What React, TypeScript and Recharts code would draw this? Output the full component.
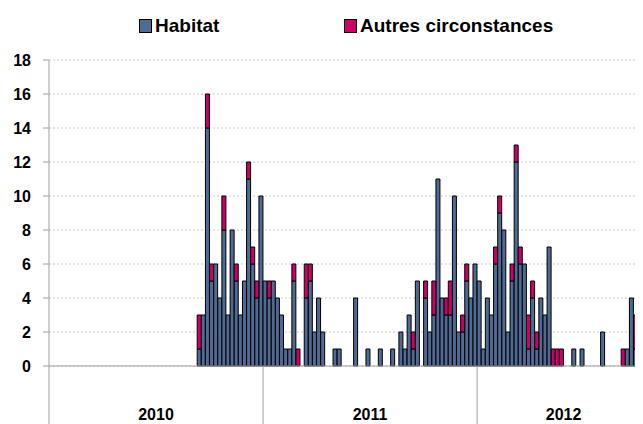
import React from 'react';
import { BarChart, Bar, XAxis, YAxis, CartesianGrid } from 'recharts';

const years = ['2010', '2011', '2012'];

const habitat2010 = [
  0, 0, 0, 0, 0, 0, 0, 0, 0, 0, 0, 0, 0, 0, 0, 0, 0, 0, 0, 0, 0, 0, 0, 0, 0, 0,
  0, 0, 0, 0, 0, 0, 0, 0, 0, 0, 1, 3, 14, 5, 6, 4, 8, 3, 8, 5, 3, 5, 11, 6, 4, 10,
];
const autres2010 = [
  0, 0, 0, 0, 0, 0, 0, 0, 0, 0, 0, 0, 0, 0, 0, 0, 0, 0, 0, 0, 0, 0, 0, 0, 0, 0,
  0, 0, 0, 0, 0, 0, 0, 0, 0, 0, 2, 0, 2, 1, 0, 0, 2, 0, 0, 1, 0, 0, 1, 1, 1, 0,
];
const habitat2011 = [
  5, 4, 5, 4, 3, 1, 1, 5, 0, 0, 4, 5, 2, 4, 2, 0, 0, 1, 1, 0, 0, 0, 4, 0, 0, 1,
  0, 0, 1, 0, 0, 1, 0, 2, 1, 3, 1, 5, 0, 4, 2, 3, 11, 4, 3, 3, 10, 2, 2, 5, 4, 6,
];
const autres2011 = [
  0, 1, 0, 0, 0, 0, 0, 1, 1, 0, 2, 1, 0, 0, 0, 0, 0, 0, 0, 0, 0, 0, 0, 0, 0, 0,
  0, 0, 0, 0, 0, 0, 0, 0, 0, 0, 1, 0, 0, 1, 0, 2, 0, 0, 1, 2, 0, 0, 1, 1, 0, 0,
];
const habitat2012 = [
  5, 1, 4, 3, 6, 9, 8, 2, 5, 12, 6, 6, 1, 4, 1, 4, 3, 7, 0, 0, 0, 0, 0, 1, 0, 1,
  0, 0, 0, 0, 2, 0, 0, 0, 0, 0, 1, 4, 1, 1, 2, 0,
];
const autres2012 = [
  0, 0, 0, 0, 1, 1, 0, 0, 1, 1, 1, 0, 2, 1, 1, 0, 0, 0, 1, 1, 1, 0, 0, 0, 0, 0,
  0, 0, 0, 0, 0, 0, 0, 0, 0, 1, 0, 0, 2, 0, 0, 0,
];

const seriesHabitat = [habitat2010, habitat2011, habitat2012];
const seriesAutres = [autres2010, autres2011, autres2012];

const data: { i: number; habitat: number; autres: number }[] = [];
const yearStarts: number[] = [];
const yearCenters: { idx: number; label: string }[] = [];
{
  let idx = 0;
  seriesHabitat.forEach((arr, y) => {
    yearStarts.push(idx);
    yearCenters.push({ idx: idx + Math.round(arr.length / 2), label: years[y] });
    arr.forEach((h, w) => {
      data.push({ i: idx, habitat: h, autres: seriesAutres[y][w] });
      idx++;
    });
  });
}

const CHART_W = 660;
const CHART_H = 416;
const M_TOP = 52;
const M_RIGHT = 18;
const Y_W = 41;
const X_H = 58;
const PLOT_W = CHART_W - M_RIGHT - Y_W;
const BAND = PLOT_W / data.length;
const PLOT_BOTTOM = CHART_H - X_H;

const FONT = '"Liberation Sans", Arial, sans-serif';
const AXIS_COLOR = '#A0A0A0';
const BLUE = '#4F6A93';
const PINK = '#CC0066';

const YearTick = (props: any) => {
  const { x, payload } = props;
  const i = Number(payload.value);
  const left = x - BAND / 2;
  const els: any[] = [];
  if (yearStarts.includes(i)) {
    els.push(
      <line key="l" x1={left} x2={left} y1={PLOT_BOTTOM} y2={CHART_H} stroke={AXIS_COLOR} strokeWidth={1} />
    );
  }
  const c = yearCenters.find((yc) => yc.idx === i);
  if (c) {
    els.push(
      <text key="t" x={left} y={412} textAnchor="middle" fontFamily={FONT} fontWeight="bold" fontSize={16} fill="#000">
        {c.label}
      </text>
    );
  }
  return <g>{els}</g>;
};

const LegendItem = ({ color, label, left }: { color: string; label: string; left: number }) => (
  <div style={{ position: 'absolute', left, top: 6, display: 'flex', alignItems: 'center', height: 24 }}>
    <div style={{ width: 11, height: 12, background: color, border: '1px solid #000', marginRight: 3 }} />
    <span style={{ fontFamily: FONT, fontWeight: 'bold', fontSize: 19, color: '#000', lineHeight: '24px' }}>{label}</span>
  </div>
);

export default function App() {
  return (
    <div style={{ width: 635, height: CHART_H, overflow: 'hidden', position: 'relative' }}>
      <BarChart
        width={CHART_W}
        height={CHART_H}
        data={data}
        margin={{ top: M_TOP, right: M_RIGHT, bottom: 0, left: 0 }}
        barCategoryGap={0}
        barGap={0}
      >
        <CartesianGrid vertical={false} stroke="#C8C8C8" strokeDasharray="2 2" />
        <XAxis
          dataKey="i"
          type="category"
          interval={0}
          height={X_H}
          tickLine={false}
          axisLine={{ stroke: AXIS_COLOR }}
          tick={(p: any) => <YearTick {...p} />}
        />
        <YAxis
          width={Y_W}
          domain={[0, 18]}
          ticks={[0, 2, 4, 6, 8, 10, 12, 14, 16, 18]}
          interval={0}
          axisLine={{ stroke: AXIS_COLOR }}
          tickLine={{ stroke: AXIS_COLOR }}
          tickSize={6}
          tickMargin={12}
          tick={{ fontFamily: FONT, fontWeight: 'bold', fontSize: 16, fill: '#000' }}
        />
        <Bar dataKey="habitat" stackId="a" fill={BLUE} stroke="#000" strokeWidth={1} isAnimationActive={false} />
        <Bar dataKey="autres" stackId="a" fill={PINK} stroke="#000" strokeWidth={1} isAnimationActive={false} />
      </BarChart>
      <LegendItem color={BLUE} label="Habitat" left={131} />
      <LegendItem color={PINK} label="Autres circonstances" left={336} />
    </div>
  );
}
